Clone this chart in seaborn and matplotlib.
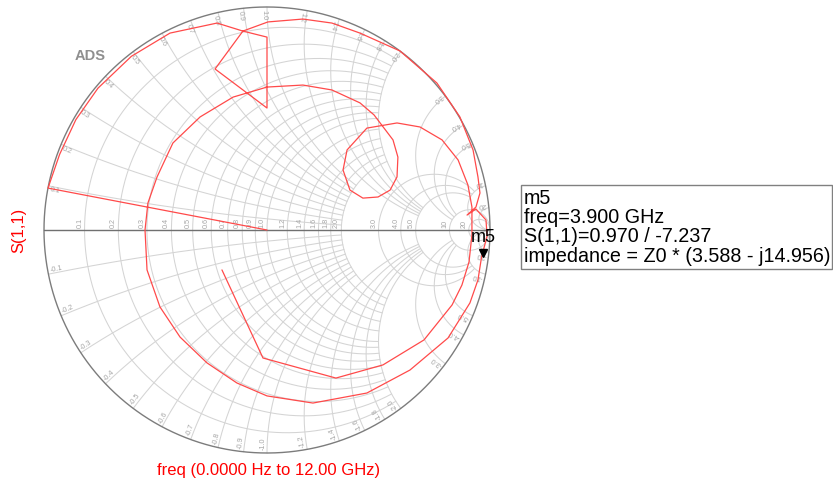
import numpy as np
import pandas as pd
import matplotlib
matplotlib.use("Agg")
import matplotlib.pyplot as plt
import matplotlib.transforms as mtransforms
from matplotlib.patches import Rectangle
import seaborn as sns

# S(1,1) sweep from 0 Hz to 12 GHz: real and imaginary parts of the reflection coefficient
s11_re = [0.000, -0.982, -0.930, -0.857, -0.758, -0.608, -0.435, -0.224, -0.108, 0.000,
          0.000, -0.233, -0.108, 0.004, 0.161, 0.291, 0.417, 0.596, 0.762, 0.865,
          0.924, 0.946, 0.955, 0.937, 0.897, 0.937, 0.982, 0.987, 0.962, 0.946,
          0.910, 0.812, 0.641, 0.448, 0.206, 0.000, -0.135, -0.269, -0.390, -0.480,
          -0.538, -0.547, -0.534, -0.493, -0.422, -0.300, -0.152, 0.000, 0.161, 0.291,
          0.417, 0.480, 0.565, 0.587, 0.583, 0.552, 0.498, 0.430, 0.372, 0.341,
          0.359, 0.448, 0.583, 0.686, 0.785, 0.857, 0.901, 0.919, 0.919, 0.906,
          0.874, 0.830, 0.704, 0.520, 0.309, -0.018, -0.202]
s11_im = [0.000, 0.188, 0.339, 0.495, 0.636, 0.779, 0.883, 0.928, 0.892, 0.865,
          0.547, 0.722, 0.892, 0.933, 0.946, 0.928, 0.883, 0.803, 0.659, 0.507,
          0.359, 0.238, 0.166, 0.103, 0.067, 0.094, 0.045, -0.027, -0.122, -0.224,
          -0.327, -0.484, -0.628, -0.731, -0.776, -0.744, -0.686, -0.596, -0.480, -0.345,
          -0.179, 0.000, 0.121, 0.238, 0.390, 0.507, 0.596, 0.641, 0.650, 0.628,
          0.570, 0.516, 0.404, 0.327, 0.238, 0.179, 0.148, 0.143, 0.179, 0.269,
          0.359, 0.457, 0.480, 0.462, 0.404, 0.314, 0.202, 0.103, -0.022, -0.143,
          -0.247, -0.336, -0.493, -0.605, -0.664, -0.574, -0.179]

# marker m5 readout
m5_freq_ghz = 3.900
m5_mag = 0.970
m5_ang_deg = -7.237
m5_z_re = 3.588
m5_z_im = -14.956

# Smith chart grid values (normalised resistance / reactance), grouped by extent
grid_fine = [0.1, 0.2, 0.3, 0.4, 0.5, 0.6, 0.7, 0.8, 0.9, 1.0]
grid_mid = [1.2, 1.4, 1.6, 1.8, 2.0]
grid_coarse = [3.0, 4.0, 5.0]
grid_outer = [10.0, 20.0]
grid_labels = ["0.1", "0.2", "0.3", "0.4", "0.5", "0.6", "0.7", "0.8", "0.9", "1.0",
               "1.2", "1.4", "1.6", "1.8", "2.0", "3.0", "4.0", "5.0", "10", "20"]

sns.set_theme(style="white")
plt.rcParams["font.family"] = ["Liberation Sans", "DejaVu Sans"]

W, H = 833, 491
CX, CY, R = 267, 230, 223  # chart centre and radius in pixels

fig = plt.figure(figsize=(W / 100, H / 100), dpi=100)
fig.patch.set_facecolor("white")
ax = fig.add_axes([0, 0, 1, 1])
ax.set_xlim(-CX / R, (W - CX) / R)
ax.set_ylim(-(H - CY) / R, CY / R)
ax.set_axis_off()

GRID = "#d4d4d4"
LABEL = "#a6a6a6"


def gamma(z):
    return (z - 1) / (z + 1)


# (values, reactance limit of the resistance circles, resistance limit of the reactance arcs)
groups = [(grid_fine, 2.0, 2.0), (grid_mid, 2.0, 5.0),
          (grid_coarse, 10.0, 10.0), (grid_outer, np.inf, np.inf)]
for values, xlim_r, rlim_x in groups:
    for v in values:
        # constant-resistance circle
        t = np.linspace(-np.arctan(xlim_r), np.arctan(xlim_r), 700)
        g = gamma(v + 1j * np.tan(t))
        ax.plot(g.real, g.imag, color=GRID, lw=0.75, zorder=1)
        # constant-reactance arcs (both signs)
        s = np.linspace(0, np.arctan(rlim_x), 500)
        for sign in (1, -1):
            g = gamma(np.tan(s) + 1j * sign * v)
            ax.plot(g.real, g.imag, color=GRID, lw=0.75, zorder=1)

# outer rim and real axis
th = np.linspace(0, 2 * np.pi, 1000)
ax.plot(np.cos(th), np.sin(th), color="#7c7c7c", lw=1.0, zorder=2)
ax.plot([-1, 1], [0, 0], color="#707070", lw=1.0, zorder=2)

# grid value labels
all_vals = grid_fine + grid_mid + grid_coarse + grid_outer
for v, lab in zip(all_vals, grid_labels):
    # resistance labels along the real axis
    gx = (v - 1) / (v + 1)
    ax.text(gx - 1.2 / R, 1.5 / R, lab, rotation=90, rotation_mode="anchor",
            ha="left", va="bottom", fontsize=5.2, color=LABEL, zorder=3)
    # reactance labels just inside the rim
    for sign in (1, -1):
        g = gamma(1j * sign * v)
        phi = np.angle(g)
        rot = np.degrees(phi - np.pi) if sign > 0 else np.degrees(phi + np.pi)
        pos = g * (1 - 2.5 / R)
        text = lab if sign > 0 else "-" + lab
        ax.text(pos.real, pos.imag, text, rotation=rot, rotation_mode="anchor",
                ha="left", va="top" if sign > 0 else "bottom",
                fontsize=5.2, color=LABEL, zorder=3)

# S(1,1) trace
df = pd.DataFrame({"re": s11_re, "im": s11_im})
sns.lineplot(data=df, x="re", y="im", sort=False, estimator=None, ax=ax,
             color="#ff4a4a", lw=0.9, zorder=4, legend=False)
ax.set_xlim(-CX / R, (W - CX) / R)
ax.set_ylim(-(H - CY) / R, CY / R)
ax.set_axis_off()

# marker m5
m5 = m5_mag * np.exp(1j * np.deg2rad(m5_ang_deg))
tri_tr = mtransforms.offset_copy(ax.transData, fig=fig, x=1.7, y=4.3, units="dots")
ax.plot([m5.real], [m5.imag], marker="v", ms=6.1, color="black", ls="none",
        transform=tri_tr, zorder=6)
ax.annotate("m5", xy=(m5.real, m5.imag), xytext=(2, 15.6), textcoords="offset pixels",
            ha="center", va="baseline", fontsize=13, color="black", zorder=6)

# watermark and axis captions
fig.text(90 / W, 1 - 56 / H, "ADS", ha="center", va="center", fontsize=10.5,
         fontweight="bold", color="#8f8f8f")
fig.text(19 / W, 1 - 230 / H, "S(1,1)", rotation=90, ha="center", va="center",
         fontsize=12, color="#ff0000")
fig.text(268.5 / W, 1 - 475 / H, "freq (0.0000 Hz to 12.00 GHz)", ha="center",
         va="baseline", fontsize=12, color="#ff0000")

# marker readout box
fig.patches.append(Rectangle((521 / W, 1 - 269 / H), (832 - 521) / W, (269 - 185) / H,
                             transform=fig.transFigure, fill=False,
                             edgecolor="#808080", lw=1.0))
lines = [
    "m5",
    f"freq={m5_freq_ghz:.3f} GHz",
    f"S(1,1)={m5_mag:.3f} / {m5_ang_deg:.3f}",
    f"impedance = Z0 * ({m5_z_re:.3f} - j{abs(m5_z_im):.3f})",
]
for i, line in enumerate(lines):
    fig.text(523.5 / W, 1 - (203.5 + 19.5 * i) / H, line, ha="left", va="baseline",
             fontsize=14.2, color="black")

fig.savefig("out.png", dpi=100, facecolor="white")
